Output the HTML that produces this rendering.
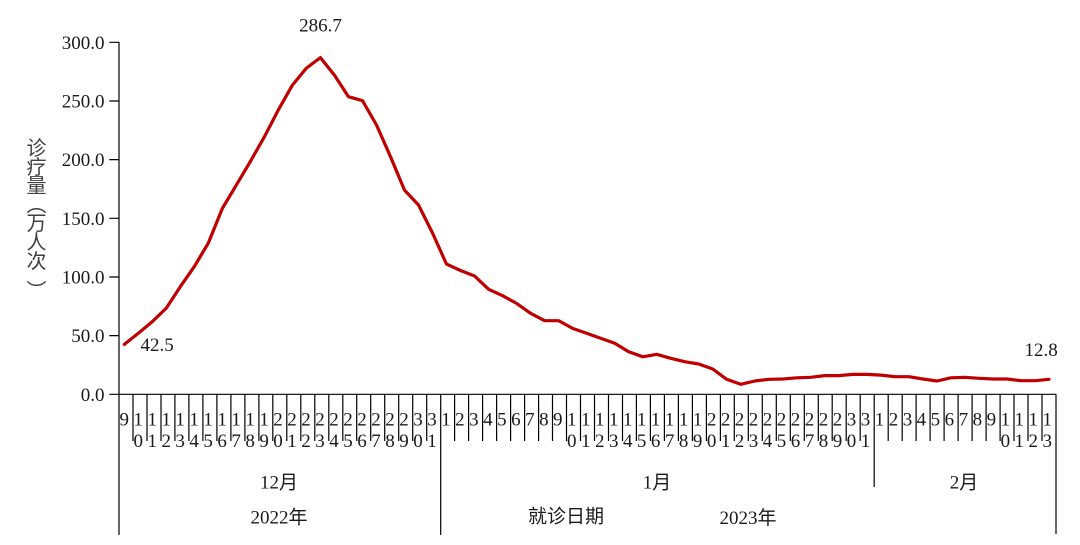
<!DOCTYPE html>
<html>
<head>
<meta charset="utf-8">
<style>
  html,body{margin:0;padding:0;background:#fff;}
  body{width:1080px;height:545px;position:relative;overflow:hidden;}
  svg{position:absolute;left:0;top:0;}
  .t{font-family:"Liberation Serif","Noto Sans CJK SC",serif;font-size:19px;fill:#1a1a1a;}
  .yt{font-family:"Noto Sans CJK SC","WenQuanYi Zen Hei",sans-serif;font-size:20px;fill:#404040;}
</style>
</head>
<body>
<svg width="1080" height="545" viewBox="0 0 1080 545" xmlns="http://www.w3.org/2000/svg">
  <!-- axes -->
  <g stroke="#000" stroke-width="1.2" fill="none">
    <path d="M119 42.3V535M119 394.3H1056"/>
    <path d="M109.3 394.3H119M109.3 335.6H119M109.3 277H119M109.3 218.3H119M109.3 159.6H119M109.3 101H119M109.3 42.3H119"/>
    <path d="M440.7 394.3V535M874.2 394.3V487M1056 394.3V534"/>
    <path d="M133 394.3V441M147 394.3V441M161 394.3V441M174.9 394.3V441M188.9 394.3V441M202.9 394.3V441M216.9 394.3V441M230.9 394.3V441M244.9 394.3V441M258.9 394.3V441M272.8 394.3V441M286.8 394.3V441M300.8 394.3V441M314.8 394.3V441M328.8 394.3V441M342.8 394.3V441M356.7 394.3V441M370.7 394.3V441M384.7 394.3V441M398.7 394.3V441M412.7 394.3V441M426.7 394.3V441M454.6 394.3V441M468.6 394.3V441M482.6 394.3V441M496.6 394.3V441M510.6 394.3V441M524.6 394.3V441M538.6 394.3V441M552.5 394.3V441M566.5 394.3V441M580.5 394.3V441M594.5 394.3V441M608.5 394.3V441M622.5 394.3V441M636.4 394.3V441M650.4 394.3V441M664.4 394.3V441M678.4 394.3V441M692.4 394.3V441M706.4 394.3V441M720.4 394.3V441M734.3 394.3V441M748.3 394.3V441M762.3 394.3V441M776.3 394.3V441M790.3 394.3V441M804.3 394.3V441M818.3 394.3V441M832.2 394.3V441M846.2 394.3V441M860.2 394.3V441M888.2 394.3V441M902.2 394.3V441M916.1 394.3V441M930.1 394.3V441M944.1 394.3V441M958.1 394.3V441M972.1 394.3V441M986.1 394.3V441M1000.1 394.3V441M1014 394.3V441M1028 394.3V441M1042 394.3V441"/>
  </g>

  <!-- y tick labels -->
  <g class="t" text-anchor="end">
    <text x="104.5" y="400.8">0.0</text>
    <text x="104.5" y="342.1">50.0</text>
    <text x="104.5" y="283.5">100.0</text>
    <text x="104.5" y="224.8">150.0</text>
    <text x="104.5" y="166.1">200.0</text>
    <text x="104.5" y="107.5">250.0</text>
    <text x="104.5" y="48.8">300.0</text>
  </g>

  <!-- y axis title -->
  <g class="yt" text-anchor="middle">
    <text x="36.5" y="155">诊</text>
    <text x="36.5" y="173.8">疗</text>
    <text x="36.5" y="192.6">量</text>
    <text x="36.5" y="211.4">︵</text>
    <text x="36.5" y="230.2">万</text>
    <text x="36.5" y="249">人</text>
    <text x="36.5" y="267.8">次</text>
    <text x="36.5" y="297.6">︶</text>
  </g>

  <!-- x tick labels row 1 -->
  <text class="t" y="425.5" x="119.5 133.5 147.5 161.5 175.4 189.4 203.4 217.4 231.4 245.4 259.4 273.3 287.3 301.3 315.3 329.3 343.3 357.2 371.2 385.2 399.2 413.2 427.2 441.2 455.1 469.1 483.1 497.1 511.1 525.1 539.1 553.0 567.0 581.0 595.0 609.0 623.0 636.9 650.9 664.9 678.9 692.9 706.9 720.9 734.8 748.8 762.8 776.8 790.8 804.8 818.8 832.7 846.7 860.7 874.7 888.7 902.7 916.6 930.6 944.6 958.6 972.6 986.6 1000.6 1014.5 1028.5 1042.5">9111111111122222222223312345678911111111112222222222331234567891111</text>
  <!-- x tick labels row 2 -->
  <text class="t" y="447" x="133.5 147.5 161.5 175.4 189.4 203.4 217.4 231.4 245.4 259.4 273.3 287.3 301.3 315.3 329.3 343.3 357.2 371.2 385.2 399.2 413.2 427.2 567.0 581.0 595.0 609.0 623.0 636.9 650.9 664.9 678.9 692.9 706.9 720.9 734.8 748.8 762.8 776.8 790.8 804.8 818.8 832.7 846.7 860.7 1000.6 1014.5 1028.5 1042.5">012345678901234567890101234567890123456789010123</text>

  <!-- month / year labels -->
  <g class="t" text-anchor="middle">
    <text x="279" y="488.5">12月</text>
    <text x="657" y="488.5">1月</text>
    <text x="964" y="488.5">2月</text>
    <text x="279" y="523.5">2022年</text>
    <text x="566" y="522.5">就诊日期</text>
    <text x="748" y="524">2023年</text>
  </g>

  <!-- data line -->
  <polyline fill="none" stroke="#C00000" stroke-width="3.2" stroke-linejoin="round" stroke-linecap="round"
    points="124.3,344.4 138.3,333.3 152.3,321.6 166.3,308.1 180.3,286.7 194.4,266.4 208.4,242.9 222.4,208.3 236.4,184.9 250.4,161.4 264.4,136.8 278.4,109.8 292.4,85.1 306.4,68.1 320.4,57.6 334.5,75.2 348.5,96.7 362.5,100.7 376.5,125 390.5,156.7 404.5,190.1 418.5,205 432.5,233 446.5,264.1 460.5,270.5 474.6,276 488.6,289.3 502.6,295.7 516.6,303.4 530.6,313.3 544.6,320.7 558.6,320.7 572.6,328.4 586.6,333.3 600.6,338.3 614.7,343.3 628.7,351.7 642.7,356.8 656.7,354.3 670.7,358.3 684.7,361.7 698.7,364 712.7,369 726.7,379.3 740.7,384.3 754.8,381 768.8,379.3 782.8,379 796.8,377.8 810.8,377.3 824.8,375.6 838.8,375.6 852.8,374.4 866.8,374.4 880.8,375.1 894.9,376.7 908.9,376.7 922.9,379 936.9,381 950.9,377.8 964.9,377.3 978.9,378.3 992.9,379 1006.9,379 1020.9,380.7 1035,380.7 1049,379.3"/>

  <!-- data labels -->
  <g class="t">
    <text x="320.5" y="31.7" text-anchor="middle">286.7</text>
    <text x="140.5" y="351">42.5</text>
    <text x="1024.5" y="356">12.8</text>
  </g>
</svg>
</body>
</html>
